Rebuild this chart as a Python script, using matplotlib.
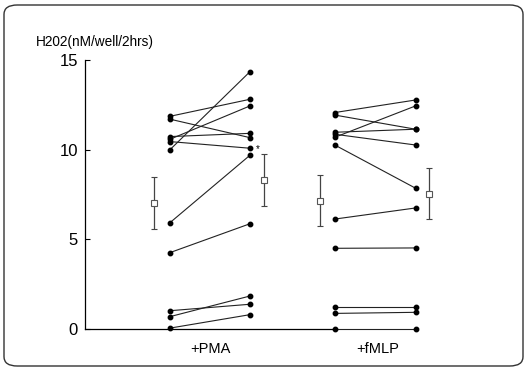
import numpy as np
import matplotlib
matplotlib.use("Agg")
import matplotlib.pyplot as plt
from matplotlib.patches import FancyBboxPatch

plt.rcParams['font.family'] = ['Liberation Sans', 'DejaVu Sans']

# H2O2 per subject, before / after stimulation
pma_before = [11.86, 11.70, 10.73, 10.58, 10.45, 10.00, 5.93, 4.26, 1.02, 0.69, 0.05]
pma_after = [12.81, 10.67, 10.91, 12.44, 10.08, 14.35, 9.69, 5.87, 1.38, 1.84, 0.80]
fmlp_before = [12.07, 11.93, 10.97, 10.69, 10.86, 10.26, 6.13, 4.50, 1.24, 0.87, 0.0]
fmlp_after = [12.77, 11.14, 11.14, 12.44, 10.26, 7.85, 6.75, 4.52, 1.24, 0.93, 0.0]

# group means +/- sem
pma_mean = [7.03, 8.31]
pma_sem = [1.43, 1.43]
fmlp_mean = [7.16, 7.53]
fmlp_sem = [1.43, 1.42]

group_labels = ['+PMA', '+fMLP']
ylabel = 'H202(nM/well/2hrs)'
yticks = [0, 5, 10, 15]

# x positions of the columns
x_pma = [1.0, 2.0]
x_fmlp = [3.06, 4.07]
x_pma_mean = [0.8, 2.18]
x_fmlp_mean = [2.87, 4.24]
x_label = [1.5, 3.6]

W, H = 528, 372
fig = plt.figure(figsize=(W / 100, H / 100), dpi=100)

# rounded frame around everything
frame = FancyBboxPatch((4 / W, 6 / H), 519 / W, 361 / H,
                       boxstyle="round,pad=0,rounding_size=0.025",
                       transform=fig.transFigure, fill=False,
                       edgecolor='#333333', linewidth=1.0)
fig.patches.append(frame)

x0_px, y0_px, y15_px = 84.7, 329, 60
ax = fig.add_axes([x0_px / W, (H - y0_px) / H, (500 - x0_px) / W, (y0_px - y15_px) / H])
ax.set_xlim((x0_px - 170) / 80 + 1, (500 - 170) / 80 + 1)
ax.set_ylim(0, 15)

lc = '#222222'
for xs, before, after in [(x_pma, pma_before, pma_after), (x_fmlp, fmlp_before, fmlp_after)]:
    for b, a in zip(before, after):
        ax.plot(xs, [b, a], color=lc, linewidth=0.8, marker='o', markersize=3.2,
                markerfacecolor='black', markeredgecolor='black', clip_on=False)

for xs, m, e in [(x_pma_mean, pma_mean, pma_sem), (x_fmlp_mean, fmlp_mean, fmlp_sem)]:
    ax.errorbar(xs, m, yerr=e, fmt='s', markersize=4.2, markerfacecolor='white',
                markeredgecolor='#555555', markeredgewidth=0.8, ecolor='#444444',
                elinewidth=0.9, capsize=2.5, capthick=0.8, linestyle='none')

ax.text(x_pma[1] + 0.1, pma_after[4] - 0.05, '*', fontsize=7, ha='center', va='center')

for s in ['top', 'right']:
    ax.spines[s].set_visible(False)
ax.spines['left'].set_linewidth(0.9)
ax.spines['bottom'].set_linewidth(0.9)
ax.spines['bottom'].set_bounds(ax.get_xlim()[0], x_fmlp[0])
ax.set_yticks(yticks)
ax.set_yticklabels([str(t) for t in yticks], fontsize=12)
ax.tick_params(axis='y', direction='in', length=3.5, width=0.8, pad=5)
ax.set_xticks([])

for xl, lab in zip(x_label, group_labels):
    ax.text(xl, -0.7, lab, fontsize=10.5, ha='center', va='top')

fig.text(36 / W, 1 - 42 / H, ylabel, fontsize=9.8, ha='left', va='center')

fig.savefig('out.png', dpi=100)
